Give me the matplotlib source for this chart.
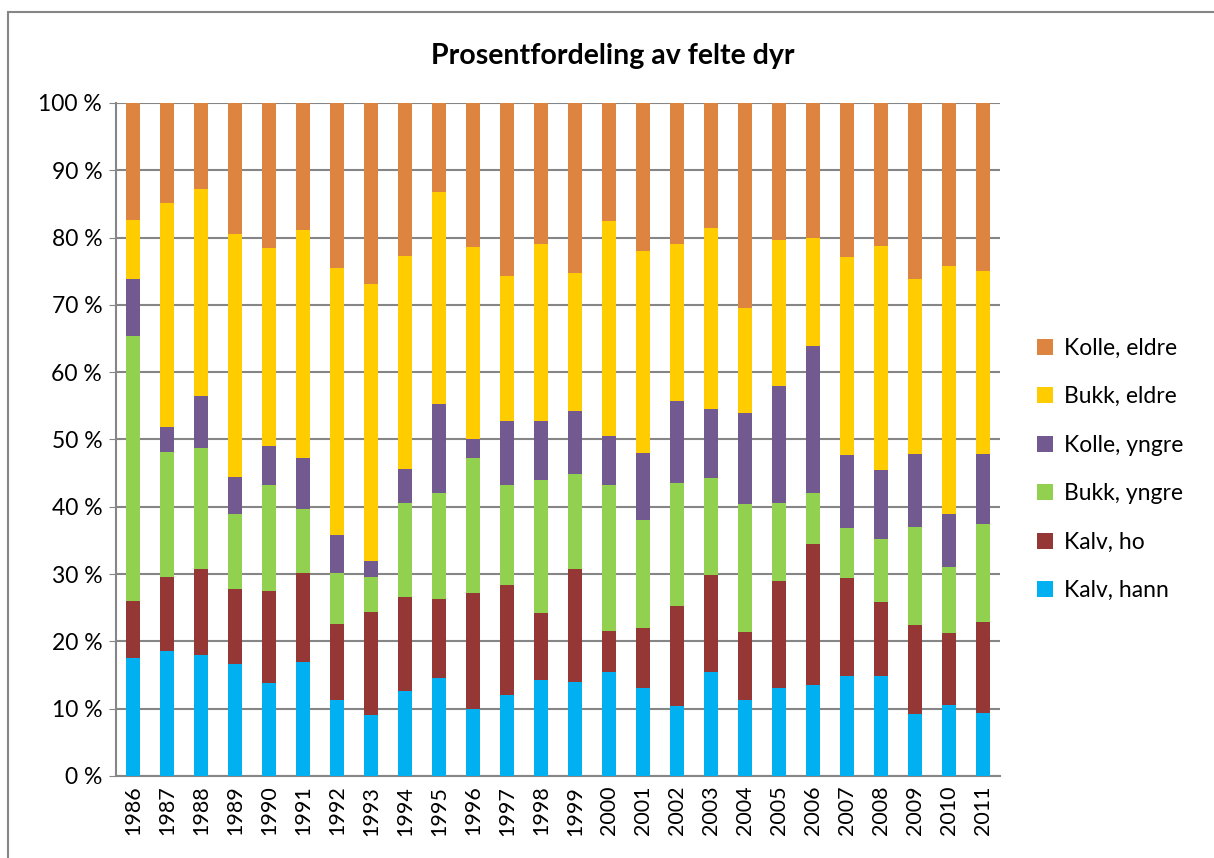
import numpy as np
import matplotlib
matplotlib.use("Agg")
import matplotlib.pyplot as plt
from matplotlib.patches import Rectangle

plt.rcParams['font.family'] = ['Lato', 'DejaVu Sans']

years = [str(y) for y in range(1986, 2012)]

# andel (%) per kategori og år
kalv_hann = [17.5, 18.5, 18.0, 16.7, 13.8, 17.0, 11.3, 9.0, 12.7, 14.5, 10.0, 12.1, 14.3,
             14.0, 15.5, 13.0, 10.4, 15.5, 11.3, 13.0, 13.5, 14.8, 14.8, 9.2, 10.6, 9.4]
kalv_ho = [8.5, 11.1, 12.7, 11.1, 13.7, 13.2, 11.3, 15.3, 13.9, 11.8, 17.2, 16.3, 9.9,
           16.8, 6.1, 9.0, 14.9, 14.4, 10.1, 16.0, 21.0, 14.6, 11.1, 13.3, 10.7, 13.5]
bukk_yngre = [39.3, 18.6, 18.0, 11.1, 15.7, 9.4, 7.6, 5.2, 13.9, 15.8, 20.0, 14.9, 19.8,
              14.1, 21.7, 16.0, 18.2, 14.4, 19.0, 11.6, 7.5, 7.4, 9.3, 14.5, 9.8, 14.6]
kolle_yngre = [8.5, 3.6, 7.7, 5.5, 5.8, 7.6, 5.6, 2.5, 5.1, 13.2, 2.8, 9.4, 8.7,
               9.3, 7.2, 10.0, 12.2, 10.3, 13.5, 17.3, 21.9, 10.9, 10.2, 10.8, 7.8, 10.4]
bukk_eldre = [8.8, 33.4, 30.8, 36.2, 29.4, 33.9, 39.7, 41.1, 31.6, 31.5, 28.6, 21.6, 26.4,
              20.6, 32.0, 30.0, 23.4, 26.8, 15.7, 21.8, 16.1, 29.4, 33.3, 26.1, 36.9, 27.1]
kolle_eldre = [17.4, 14.8, 12.8, 19.4, 21.6, 18.9, 24.5, 26.9, 22.8, 13.2, 21.4, 25.7, 20.9,
               25.2, 17.5, 22.0, 20.9, 18.6, 30.4, 20.3, 20.0, 22.9, 21.3, 26.1, 24.2, 25.0]

series = [
    ("Kalv, hann", kalv_hann, "#00B0F0"),
    ("Kalv, ho", kalv_ho, "#953735"),
    ("Bukk, yngre", bukk_yngre, "#92D050"),
    ("Kolle, yngre", kolle_yngre, "#725990"),
    ("Bukk, eldre", bukk_eldre, "#FFCC00"),
    ("Kolle, eldre", kolle_eldre, "#DD8440"),
]

fig = plt.figure(figsize=(12.14, 8.58), dpi=100)
ax = fig.add_axes([0.0956, 0.0956, 0.728, 0.7844])

x = np.arange(len(years))
data = np.array([s[1] for s in series], dtype=float)
data = data / data.sum(axis=0) * 100
bottom = np.zeros(len(years))
handles = []
for (name, _, col), vals in zip(series, data):
    b = ax.bar(x, vals, 0.4, bottom=bottom, color=col, label=name, zorder=3)
    handles.append(b)
    bottom += vals

ax.set_xlim(-0.5, len(years) - 0.5)
ax.set_ylim(0, 100)
ax.set_yticks(np.arange(0, 101, 10))
ax.set_yticklabels([f"{v} %" for v in range(0, 101, 10)], fontsize=16.5)
ax.set_xticks(x)
ax.set_xticklabels(years, rotation=90, fontsize=15.5)
ax.tick_params(axis='x', length=0, pad=7)
ax.tick_params(axis='y', length=5, color='#868686', pad=5)
ax.grid(axis='y', color='#868686', linewidth=1.5, zorder=0)
for s in ['top', 'right']:
    ax.spines[s].set_visible(False)
for s in ['left', 'bottom']:
    ax.spines[s].set_color('#868686')
    ax.spines[s].set_linewidth(1.5)

fig.text(0.505, 0.935, "Prosentfordeling av felte dyr", ha='center', va='center',
         fontsize=20.5, fontweight='bold')

leg = fig.legend(handles[::-1], [s[0] for s in series][::-1], loc='center left',
                 bbox_to_anchor=(0.845, 0.453), frameon=False, fontsize=16.5,
                 handlelength=0.7, handleheight=0.7, labelspacing=1.2,
                 handletextpad=0.45, borderpad=0)

fig.patches.append(Rectangle((8 / 1214, -0.01), 1.05, 1 - 12 / 858 + 0.01,
                             transform=fig.transFigure, fill=False,
                             edgecolor='#868686', linewidth=1.5))

fig.savefig("out.png", dpi=100)
